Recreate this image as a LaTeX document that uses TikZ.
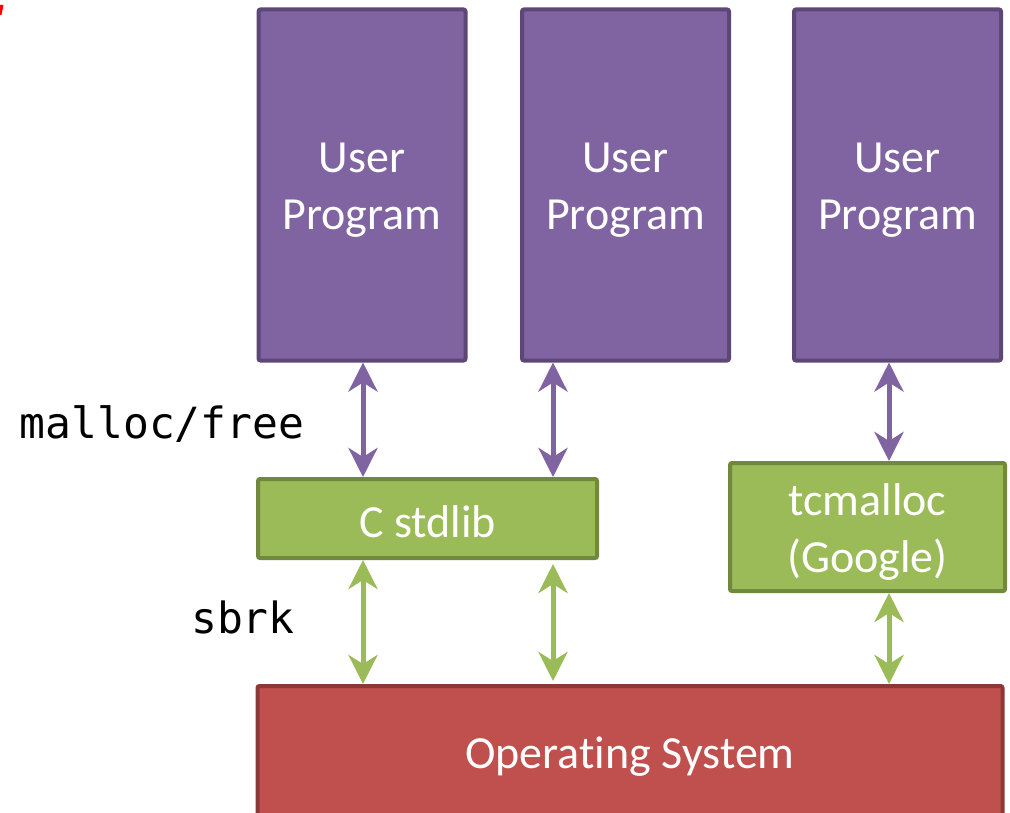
\documentclass[tikz,border=0pt]{standalone}
\usepackage{fontspec}
\setmainfont{Carlito}[Ligatures=NoCommon]
\setmonofont{DejaVu Sans Mono}
\usetikzlibrary{arrows.meta,calc}
\definecolor{pfill}{HTML}{8064A2}
\definecolor{pdraw}{HTML}{5C4776}
\definecolor{gfill}{HTML}{9BBB59}
\definecolor{gdraw}{HTML}{71893F}
\definecolor{rfill}{HTML}{C0504D}
\definecolor{rdraw}{HTML}{8C3836}
\tikzset{
  box/.style={rectangle, rounded corners=2pt, line width=4pt, inner sep=0pt},
  boxtext/.style={text=white, align=center, font=\fontsize{46}{57}\selectfont, inner sep=0pt},
  upbox/.style={box, fill=pfill, draw=pdraw, minimum width=207pt, minimum height=351pt},
  libbox/.style={box, fill=gfill, draw=gdraw},
  osbox/.style={box, fill=rfill, draw=rdraw, minimum width=745pt, minimum height=134pt},
  parrow/.style={draw=pfill, line width=5pt, {Stealth[length=29pt,width=29pt,inset=9pt]}-{Stealth[length=29pt,width=29pt,inset=9pt]}},
  garrow/.style={draw=gfill, line width=5pt, {Stealth[length=29pt,width=29pt,inset=9pt]}-{Stealth[length=29pt,width=29pt,inset=9pt]}},
  codelabel/.style={font=\ttfamily\fontsize{43}{52}\selectfont, text=black, inner sep=0pt},
}
\begin{document}
\begin{tikzpicture}[x=1pt,y=-1pt]
\useasboundingbox (0,0) rectangle (1010,813);
% tiny red mark at the top-left corner
\fill[red] (0,5) -- (3.5,5) -- (1.5,15) -- (0,15) -- cycle;

\node[upbox] (up1) at (362,185) {};
\node[upbox] (up2) at (625.5,185) {};
\node[upbox] (up3) at (897.5,185) {};
\node[boxtext] (t1) at ([yshift=-5pt]up1.center) {User\\Program};
\node[boxtext] (t2) at ([yshift=-5pt]up2.center) {User\\Program};
\node[boxtext] (t3) at ([yshift=-5pt]up3.center) {User\\Program};

\node[libbox, minimum width=339pt, minimum height=79pt] (cstd) at (427.5,518.5) {};
\node[boxtext] (tc) at ([yshift=-3pt]cstd.center) {C stdlib};
\node[libbox, minimum width=275pt, minimum height=128pt] (tcm) at (867.5,527) {};
\node[boxtext] (tt) at ([yshift=-5pt]tcm.center) {tcmalloc\\(Google)};

\node[osbox] (os) at (630,753) {};
\node[boxtext] (to) at ([yshift=-4pt]os.center) {Operating System};

\coordinate (x1) at (363,0);
\coordinate (x2) at (553,0);
\coordinate (x3) at (889,0);
\coordinate (x2top) at (553,564);
\coordinate (x2bot) at (553,681);

\draw[parrow] (up1.south -| x1) -- (cstd.north -| x1);
\draw[parrow] (up2.south -| x2) -- (cstd.north -| x2);
\draw[parrow] (up3.south -| x3) -- (tcm.north -| x3);

\draw[garrow] (cstd.south -| x1) -- (os.north -| x1);
\draw[garrow] (x2top) -- (x2bot);
\draw[garrow] (tcm.south -| x3) -- (os.north -| x3);

\node[codelabel] (mf) at (162,424) {malloc/free};
\node[codelabel] (sb) at (243,617) {sbrk};
\end{tikzpicture}
\end{document}
